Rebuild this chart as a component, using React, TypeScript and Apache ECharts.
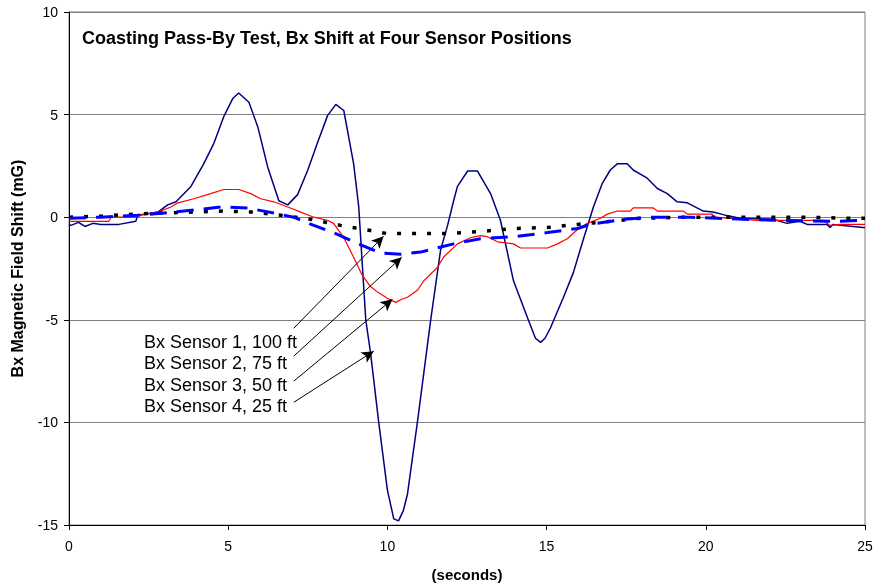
import React, { useEffect, useRef } from "react";
import * as echarts from "echarts";

const titleText = "Coasting Pass-By Test, Bx Shift at Four Sensor Positions";
const yName = "Bx Magnetic Field Shift (mG)";
const xName = "(seconds)";

// Sensor 4, 25 ft (navy solid)
const s4T = [0, 0.06, 0.3, 0.5, 0.75, 1.0, 1.57, 2.1, 2.16, 2.79, 3.1, 3.36, 3.83, 4.23, 4.55, 4.86, 5.15, 5.33, 5.65, 5.93, 6.24, 6.59, 6.87, 7.18, 7.5, 7.81, 8.12, 8.38, 8.63, 8.94, 9.1, 9.32, 9.47, 9.72, 10.0, 10.2, 10.35, 10.5, 10.63, 10.95, 11.36, 11.67, 11.89, 12.08, 12.2, 12.52, 12.83, 13.24, 13.55, 13.96, 14.4, 14.65, 14.81, 14.95, 15.12, 15.53, 15.84, 16.15, 16.47, 16.75, 17.0, 17.22, 17.53, 17.72, 18.16, 18.48, 18.79, 19.1, 19.42, 19.92, 20.23, 20.61, 21.08, 22.11, 22.55, 22.96, 23.18, 23.81, 23.9, 24.0, 24.94, 25];
const s4V = [-0.35, -0.4, -0.25, -0.45, -0.3, -0.35, -0.35, -0.2, 0.1, 0.25, 0.6, 0.75, 1.5, 2.6, 3.6, 4.9, 5.8, 6.05, 5.6, 4.4, 2.45, 0.8, 0.6, 1.1, 2.3, 3.65, 4.95, 5.5, 5.2, 2.6, 0.5, -5.0, -6.6, -9.9, -13.3, -14.7, -14.8, -14.3, -13.5, -9.9, -5.0, -1.6, -0.4, 0.8, 1.5, 2.25, 2.25, 1.15, -0.15, -3.1, -4.9, -5.9, -6.1, -5.9, -5.4, -3.9, -2.7, -1.1, 0.5, 1.65, 2.3, 2.6, 2.6, 2.3, 1.9, 1.4, 1.15, 0.75, 0.7, 0.3, 0.25, 0.1, -0.05, -0.1, -0.3, -0.2, -0.35, -0.35, -0.5, -0.35, -0.5, -0.5];

// Sensor 3, 50 ft (red solid)
const s3T = [0, 1.25, 1.32, 2.1, 2.26, 2.79, 3.2, 3.42, 3.92, 4.45, 4.86, 5.33, 5.71, 6.02, 6.43, 6.87, 7.28, 7.69, 8.12, 8.31, 8.63, 8.94, 9.2, 9.45, 9.69, 10.0, 10.26, 10.45, 10.63, 10.95, 11.14, 11.57, 11.76, 12.2, 12.61, 12.92, 13.14, 13.46, 13.96, 14.18, 15.03, 15.34, 15.65, 15.97, 16.28, 16.69, 16.91, 17.22, 17.63, 17.72, 18.35, 18.48, 19.29, 19.42, 20.2, 20.25, 21.61, 23.68, 23.9, 24.22, 25];
const s3V = [-0.2, -0.2, 0, 0, 0.1, 0.25, 0.5, 0.7, 0.9, 1.15, 1.35, 1.35, 1.15, 0.9, 0.75, 0.5, 0.25, 0, -0.15, -0.3, -1.0, -1.95, -2.8, -3.35, -3.65, -3.95, -4.15, -4.0, -3.9, -3.55, -3.1, -2.45, -1.95, -1.3, -1.0, -0.9, -0.95, -1.2, -1.3, -1.5, -1.5, -1.3, -1.05, -0.6, -0.3, -0.05, 0.15, 0.3, 0.3, 0.45, 0.45, 0.3, 0.3, 0.15, 0.15, 0, -0.15, -0.15, -0.4, -0.35, -0.35];

// Sensor 2, 75 ft (blue dashed)
const s2T = [0, 1.0, 2.16, 2.98, 3.92, 4.77, 5.61, 6.43, 7.06, 7.69, 8.31, 9.16, 9.79, 10.41, 11.04, 12.08, 12.92, 13.96, 15.03, 15.97, 16.37, 17.41, 18.26, 19.51, 22.11, 24.22, 24.84, 25];
const s2V = [-0.05, 0, 0.1, 0.2, 0.35, 0.5, 0.45, 0.2, 0, -0.4, -0.75, -1.35, -1.75, -1.8, -1.7, -1.3, -1.05, -0.95, -0.75, -0.55, -0.35, -0.1, 0, 0, -0.15, -0.2, -0.15, -0.15];

// Sensor 1, 100 ft (black dotted)
const s1T = [0, 1.0, 2.04, 2.89, 3.92, 4.86, 5.8, 6.65, 7.59, 8.53, 9.47, 10.0, 10.82, 11.89, 12.92, 13.96, 15.03, 15.97, 17.0, 17.94, 19.42, 21.08, 23.18, 24.53, 25];
const s1V = [0, 0.05, 0.15, 0.2, 0.25, 0.3, 0.25, 0.1, -0.1, -0.4, -0.65, -0.8, -0.8, -0.8, -0.7, -0.55, -0.5, -0.35, -0.2, -0.05, 0, 0, 0, -0.05, -0.05];

const annotLabels = ["Bx Sensor 1, 100 ft", "Bx Sensor 2, 75 ft", "Bx Sensor 3, 50 ft", "Bx Sensor 4, 25 ft"];
// arrow start / tip in data coordinates
const arrowFrom = [[7.06, -5.41], [7.06, -6.77], [7.06, -7.99], [7.06, -9.02]];
const arrowTo = [[9.88, -0.93], [10.45, -1.95], [10.16, -4.0], [9.57, -6.53]];

const zip = (t: number[], v: number[]) => t.map((x, i) => [x, v[i]]);

export default function App() {
  const ref = useRef<HTMLDivElement>(null);
  useEffect(() => {
    if (!ref.current) return;
    const chart = echarts.init(ref.current, undefined, { renderer: "svg" });
    const font = "Arial, 'Liberation Sans', sans-serif";
    chart.setOption({
      animation: false,
      textStyle: { fontFamily: font },
      grid: { left: 69, right: 8, top: 12, bottom: 61, show: true, borderColor: "#808080", borderWidth: 1, outerBoundsMode: "none", containLabel: false },
      xAxis: {
        type: "value", min: 0, max: 25, interval: 5,
        name: xName, nameLocation: "middle", nameGap: 42,
        nameTextStyle: { fontSize: 15, fontWeight: "bold", color: "#000", fontFamily: font },
        axisLine: { show: true, onZero: false, lineStyle: { color: "#000", width: 1 } },
        axisTick: { show: true, length: 5, lineStyle: { color: "#000" } },
        axisLabel: { fontSize: 14, color: "#000", margin: 14, fontFamily: font },
        splitLine: { show: false },
      },
      yAxis: {
        type: "value", min: -15, max: 10, interval: 5,
        name: yName, nameLocation: "middle", nameGap: 44, nameRotate: 90,
        nameTextStyle: { fontSize: 16, fontWeight: "bold", color: "#000", fontFamily: font },
        axisLine: { show: true, lineStyle: { color: "#000", width: 1 } },
        axisTick: { show: true, length: 5, lineStyle: { color: "#000" } },
        axisLabel: { fontSize: 14, color: "#000", margin: 11, fontFamily: font },
        splitLine: { show: true, lineStyle: { color: "#808080", width: 1 } },
      },
      graphic: [
        { type: "text", left: 82, top: 29, style: { text: titleText, font: `bold 18px ${font}`, fill: "#000" } },
        ...annotLabels.map((t, i) => ({
          type: "text", x: 144, y: 342 + i * 21.3,
          style: { text: t, font: `18px ${font}`, fill: "#000", verticalAlign: "middle" },
        })),
      ],
      series: [
        { name: "Bx Sensor 4, 25 ft", type: "line", data: zip(s4T, s4V), showSymbol: false, lineStyle: { color: "#000080", width: 1.5 }, z: 2 },
        { name: "Bx Sensor 3, 50 ft", type: "line", data: zip(s3T, s3V), showSymbol: false, lineStyle: { color: "#FF0000", width: 1.2 }, z: 3 },
        { name: "Bx Sensor 1, 100 ft", type: "line", data: zip(s1T, s1V), showSymbol: false, lineStyle: { color: "#000", width: 3.5, type: [4, 11], cap: "butt" }, z: 4 },
        { name: "Bx Sensor 2, 75 ft", type: "line", data: zip(s2T, s2V), showSymbol: false, lineStyle: { color: "#0000FF", width: 3, type: [17, 10], cap: "butt" }, z: 5 },
        {
          name: "arrows", type: "line", data: [], z: 6,
          markLine: {
            silent: true, symbol: ["none", "arrow"], symbolSize: [9, 12], animation: false,
            label: { show: false },
            lineStyle: { color: "#000", width: 1, type: "solid" },
            data: arrowFrom.map((f, i) => [{ coord: f }, { coord: arrowTo[i] }]),
          },
        },
      ],
    });
    return () => chart.dispose();
  }, []);
  return <div ref={ref} style={{ position: "fixed", left: 0, top: 0, width: 873, height: 586 }} />;
}
